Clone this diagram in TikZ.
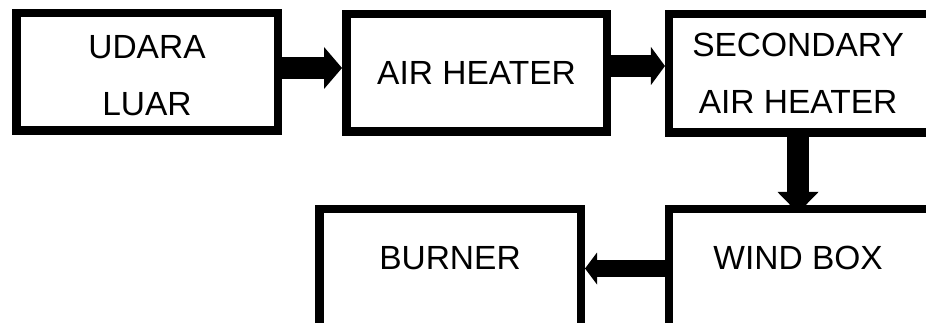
\documentclass[tikz,border=0pt]{standalone}
\usepackage{fontspec}
\setmainfont{Liberation Sans}
\usetikzlibrary{arrows.meta,calc}
\begin{document}
\begin{tikzpicture}[x=1pt,y=-1pt,
  box/.style={draw=black, line width=8.5pt, fill=white, inner sep=0pt, align=center,
    font=\fontsize{33.5}{57}\selectfont},
  lowbox/.style={box, minimum height=125.75pt, text depth=28pt},
  flow/.style={draw=black, line width=22pt}]
\useasboundingbox (0,0) rectangle (926,323);
\clip (0,0) rectangle (926,323);
\fill[white] (0,0) rectangle (926,323);
\node[box, minimum width=261.5pt, minimum height=117.5pt] (udara) at (147,72) {\rule{0pt}{31pt}UDARA\\LUAR};
\node[box, minimum width=260.5pt, minimum height=117.5pt] (heater) at (476.5,73) {AIR HEATER};
\node[box, minimum width=270.75pt, minimum height=118.5pt] (second) at (804.6,73.5) {SECONDARY\hspace*{13pt}\\AIR HEATER\hspace*{13pt}};
\node[lowbox, minimum width=261.5pt] (burner) at (450,272.1) {BURNER};
\node[lowbox, minimum width=270.75pt] (wind) at (804.6,272.1) {WIND BOX\hspace*{13pt}};
\draw[flow, -{Triangle[length=18pt,width=42pt,line width=0pt]}] (udara.east |- 0,68) -- (heater.west |- 0,68);
\draw[flow, -{Triangle[length=14pt,width=38pt,line width=0pt]}] (heater.east |- 0,66) -- (second.west |- 0,66);
\draw[flow, shorten >=-8pt, -{Triangle[length=21pt,width=41pt,line width=0pt]}] (second.south -| 798,0) -- (wind.north -| 798,0);
\draw[flow, line width=17pt, -{Triangle[length=12pt,width=32pt,line width=0pt]}] (wind.west |- 0,268.5) -- (burner.east |- 0,268.5);
\end{tikzpicture}
\end{document}
